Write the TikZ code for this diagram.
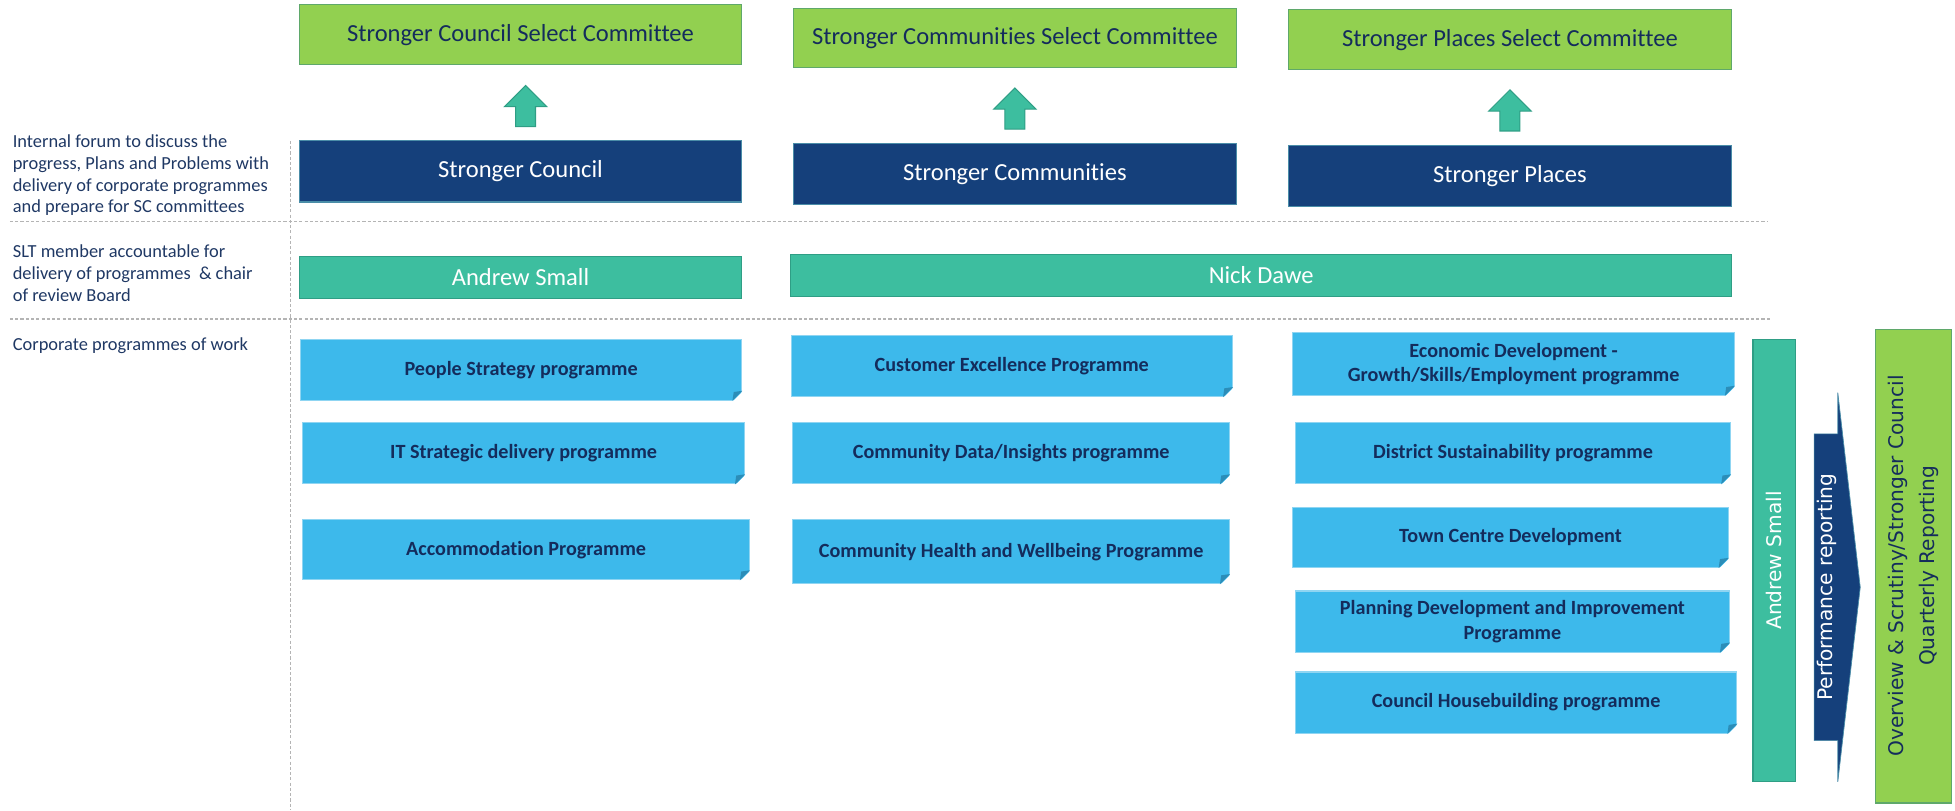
\documentclass[tikz,border=0pt]{standalone}
\usepackage{fontspec}
\setmainfont{Carlito}[Ligatures=NoCommon]
\newfontfamily\vertfont{DejaVu Sans}
\definecolor{selgreen}{HTML}{92D050}
\definecolor{selborder}{HTML}{5FA86A}
\definecolor{darkblue}{HTML}{15407B}
\definecolor{pillarborder}{HTML}{4A8DA8}
\definecolor{tealfill}{HTML}{3DBE9F}
\definecolor{tealborder}{HTML}{2F9E85}
\definecolor{progblue}{HTML}{3DB9EB}
\definecolor{progborder}{HTML}{8FD5F2}
\definecolor{progfold}{HTML}{2C8DB8}
\definecolor{navytext}{HTML}{142C5C}
\definecolor{labeltext}{HTML}{1F3864}
\definecolor{divgray}{HTML}{B4B4B4}
\begin{document}
\begin{tikzpicture}[x=0.025cm, y=-0.025cm,
    box/.style={inner sep=0pt, align=center, line width=0.6pt},
    selbox/.style={box, fill=selgreen, draw=selborder, text=navytext,
      font=\fontsize{14}{17}\selectfont, minimum width=8.875cm, minimum height=1.2cm},
    pillar/.style={box, fill=darkblue, draw=pillarborder, text=white,
      font=\fontsize{14}{17}\selectfont, minimum width=8.875cm, minimum height=1.225cm},
    owner/.style={box, fill=tealfill, draw=tealborder, text=white,
      font=\fontsize{14}{17}\selectfont, minimum height=0.85cm},
    prog/.style={box, fill=progblue, draw=progborder, text=navytext,
      font=\bfseries\fontsize{11.5}{14}\selectfont, minimum width=8.85cm, minimum height=1.225cm},
    sidelabel/.style={anchor=west, align=left, inner sep=0pt, text=labeltext,
      font=\fontsize{10.5}{12.5}\selectfont},
    divider/.style={draw=divgray, line width=0.8pt, dash pattern=on 1.8pt off 1.2pt},
    uparrow/.style={fill=tealfill, draw=tealborder, line width=0.6pt},
    vertical/.style={rotate=90, font=\vertfont\fontsize{11.5}{17.5}\selectfont}
  ]
  \useasboundingbox (0,0) rectangle (1568,650.4);

  % Dividers
  \draw[divider] (8,177.5) -- (1418,177.5);
  \draw[divider] (8,256) -- (1420,256);
  \draw[divider] (233,113) -- (233,650);

  % Row labels
  \node[sidelabel] (forumlbl) at (10,140.5) {Internal forum to discuss the\\progress, Plans and Problems with\\delivery of corporate programmes\\and prepare for SC committees};
  \node[sidelabel] (sltlbl) at (10,219) {SLT member accountable for\\delivery of programmes \ \& chair\\of review Board};
  \node[sidelabel] (corplbl) at (10,277) {Corporate programmes of work};

  % Select committees
  \node[selbox] (scsel) at (417.5,28) {Stronger Council Select Committee};
  \node[selbox] (scmsel) at (814,30.5) {Stronger Communities Select Committee};
  \node[selbox] (spsel) at (1211,32) {Stronger Places Select Committee};

  % Pillars
  \node[pillar] (sc) at (417.5,137.5) {Stronger Council};
  \node[pillar] (scm) at (814,139.5) {Stronger Communities};
  \node[pillar] (sp) at (1211,141) {Stronger Places};

  % Up arrows
  \foreach \p/\dx in {sc/4,scm/0,sp/0}
    \filldraw[uparrow] ([shift={(\dx-8,-11)}]\p.north) -- ++(0,-16) -- ++(-9,0)
      -- ++(17,-17) -- ++(17,17) -- ++(-9,0) -- ++(0,16) -- cycle;

  % SLT owners
  \node[owner, minimum width=8.875cm] (asmall) at (417.5,222.5) {Andrew Small};
  \node[owner, minimum width=18.875cm] (ndawe) at (1011.5,221) {Nick Dawe};

  % Programmes
  \node[prog] (people) at (418,296.5) {People Strategy programme};
  \node[prog] (itdel) at (420,363.5) {IT Strategic delivery programme};
  \node[prog, minimum width=8.95cm, minimum height=1.2cm] (accom) at (422,441) {Accommodation Programme};
  \node[prog] (custex) at (811.5,293.5) {Customer Excellence Programme};
  \node[prog, minimum width=8.75cm] (commdata) at (811,363.5) {Community Data/Insights programme};
  \node[prog, minimum width=8.75cm, minimum height=1.275cm] (commhealth) at (811,442.5) {Community Health and Wellbeing Programme};
  \node[prog, minimum height=1.25cm] (econ) at (1214,292) {Economic Development -\\Growth/Skills/Employment programme};
  \node[prog, minimum width=8.725cm] (district) at (1213.5,363.5) {District Sustainability programme};
  \node[prog, minimum width=8.725cm, minimum height=1.2cm] (town) at (1211.5,431) {Town Centre Development};
  \node[prog, minimum width=8.7cm] (planning) at (1213,498.5) {Planning Development and Improvement\\Programme};
  \node[prog] (housebuild) at (1216,563.5) {Council Housebuilding programme};

  % Folded corners
  \foreach \n in {people,itdel,accom,custex,commdata,commhealth,econ,district,town,planning,housebuild} {
    \fill[white] ([shift={(0.8,-8)}]\n.south east) -- ([shift={(0.8,0.8)}]\n.south east)
      -- ([shift={(-8,0.8)}]\n.south east) -- cycle;
    \fill[progfold] ([shift={(0,-8)}]\n.south east) -- ([shift={(-8,0)}]\n.south east)
      -- ([shift={(-7,-7)}]\n.south east) -- cycle;
  }

  % Reporting
  \node[owner, vertical, text=white, minimum width=8.875cm] (asmallv) at (1423,449.5) {Andrew Small};
  \filldraw[fill=darkblue, draw=pillarborder, line width=0.4pt] (1455,348) -- (1474,348) -- (1474,315)
    -- (1492,471) -- (1474,627) -- (1474,594) -- (1455,594) -- cycle;
  \node[vertical, text=white, inner sep=0pt] (perf) at (1465,471) {Performance reporting};
  \node[selbox, vertical, text=navytext, minimum width=9.5cm, minimum height=1.525cm] (osreport) at (1534.5,454)
    {Overview \& Scrutiny/Stronger Council\\Quarterly Reporting};
\end{tikzpicture}
\end{document}
